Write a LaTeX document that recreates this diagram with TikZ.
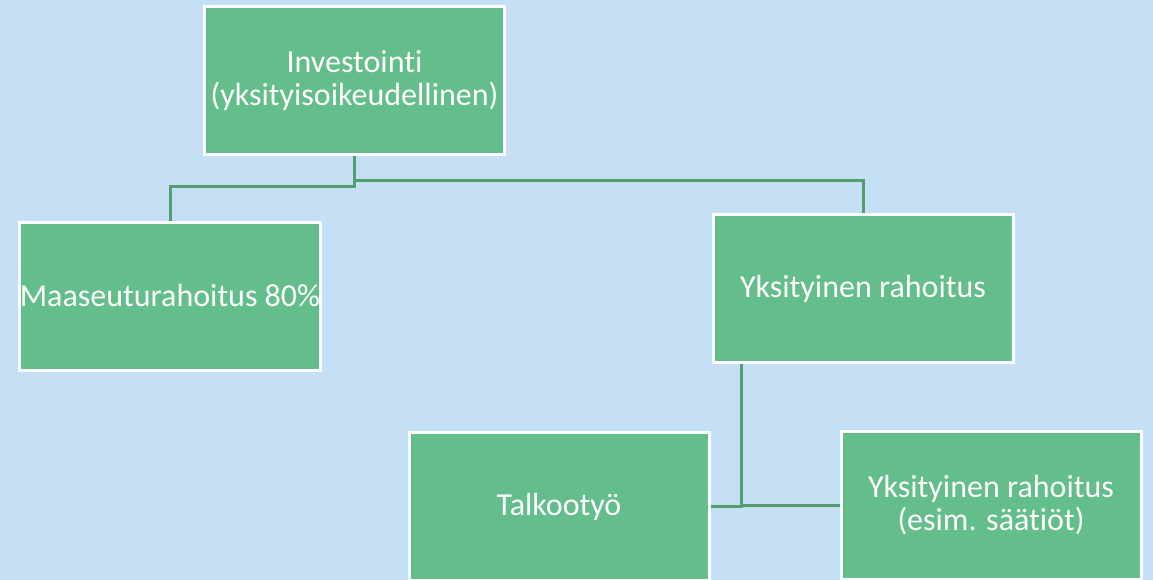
\documentclass[tikz,border=0pt]{standalone}
\usepackage{fontspec}
\setmainfont{Carlito}[Ligatures={NoCommon}]
\definecolor{bgblue}{RGB}{197,224,245}
\definecolor{boxgreen}{RGB}{99,190,139}
\definecolor{linegreen}{RGB}{82,158,112}
\tikzset{
  box/.style={draw=white, line width=3pt, fill=boxgreen, minimum width=300pt, minimum height=148pt,
    inner sep=0pt, text=white, align=center, font=\fontsize{32}{33}\selectfont},
  conn/.style={draw=linegreen, line width=3pt}
}
\begin{document}
\begin{tikzpicture}[x=1pt,y=-1pt]
\useasboundingbox (0,0) rectangle (1153,580);
\clip (0,0) rectangle (1153,580);
\fill[bgblue] (0,0) rectangle (1153,580);
\node[box] (inv) at (354.5,80.5) {Investointi\\(yksityisoikeudellinen)};
\node[box] (maa) at (170,296) {Maaseuturahoitus 80\%};
\node[box] (yr) at (863,288.5) {Yksityinen rahoitus};
\node[box] (talk) at (559,506.5) {Talkootyö};
\node[box] (yr2) at (991,505.5) {Yksityinen rahoitus\\(esim. säätiöt)};
\coordinate (ys) at ([xshift=-122pt]yr.south);
\draw[conn] (inv.south) -- ([yshift=-31pt]inv.south) -| (maa.north);
\draw[conn] (inv.south) -- ([yshift=-25pt]inv.south) -| (yr.north);
\draw[conn] (ys) |- (talk.east);
\draw[conn] (ys) |- (yr2.west);
\end{tikzpicture}
\end{document}
